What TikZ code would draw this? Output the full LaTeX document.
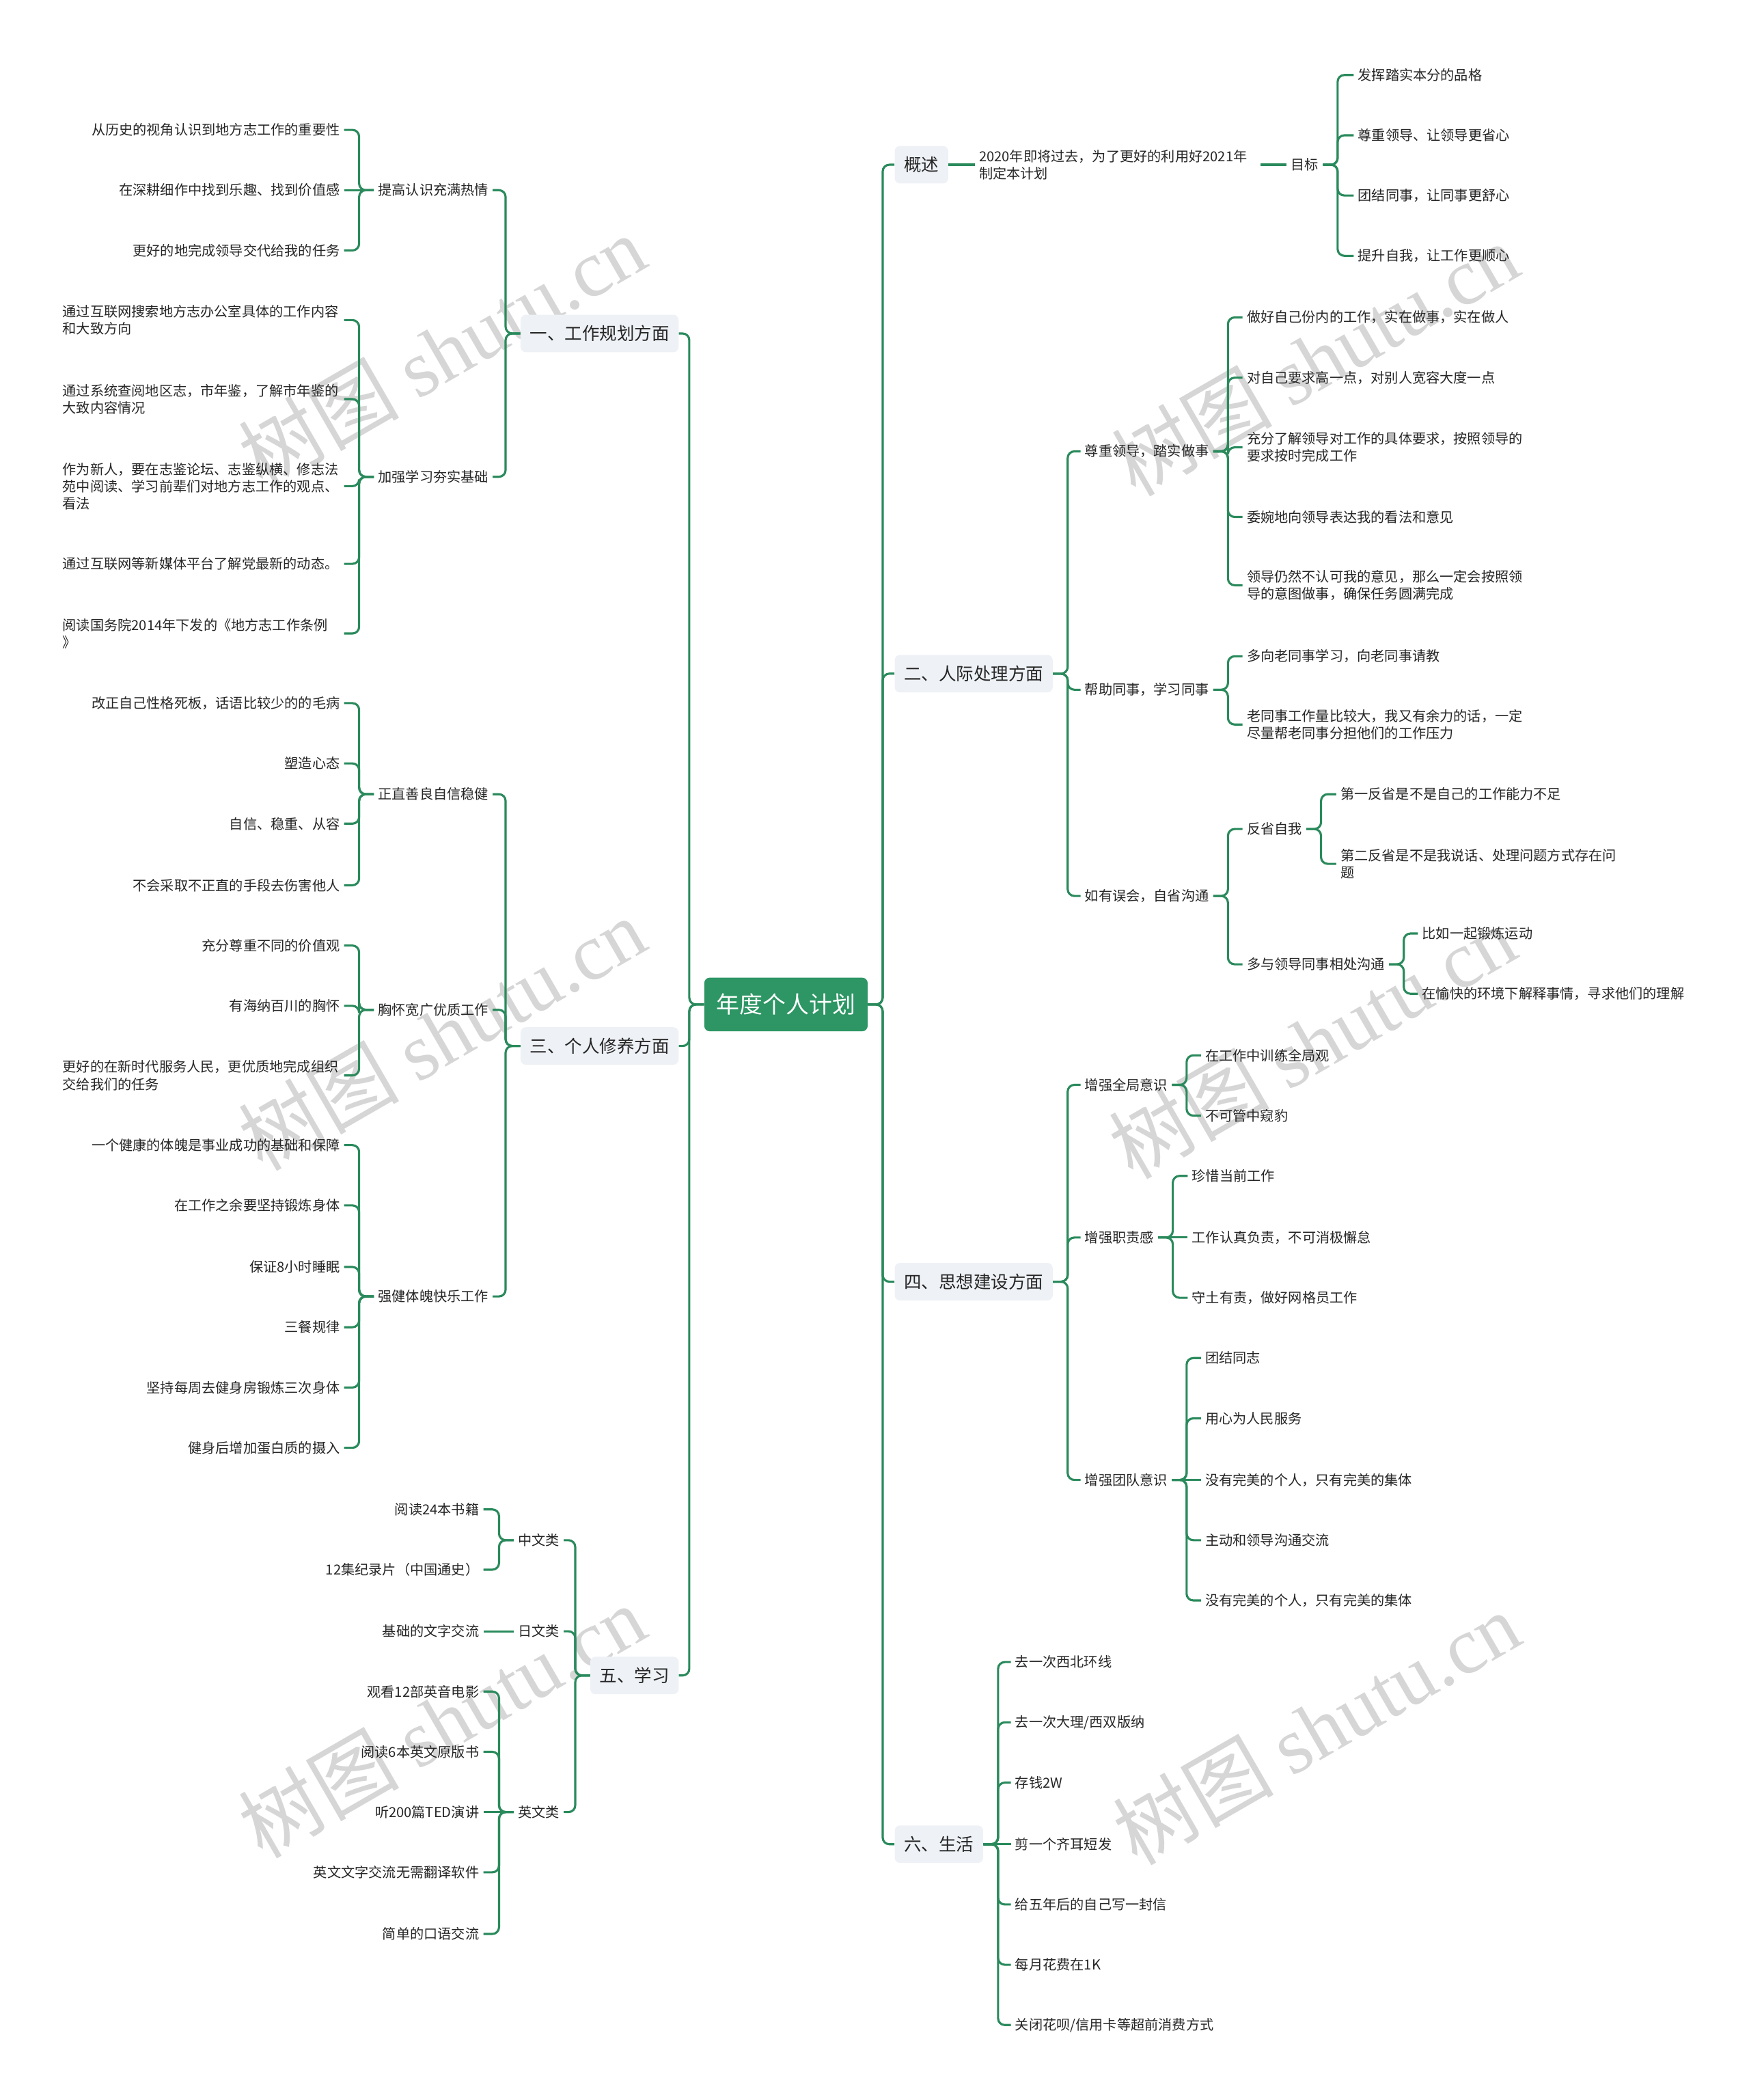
\documentclass[tikz,border=0pt]{standalone}
\usepackage{fontspec}
\setmainfont{Noto Sans CJK SC}
\newfontfamily\marklatin{Liberation Serif}
\usetikzlibrary{positioning}
\usepackage{xcolor}
\definecolor{mmgreen}{HTML}{2D9664}
\definecolor{mmline}{HTML}{2A8A5C}
\definecolor{mmbox}{HTML}{EEF1F5}
\definecolor{mmtext}{HTML}{262626}
\definecolor{mmmark}{HTML}{D6D6D6}

\tikzset{
  hubnode/.style={fill=mmgreen, text=white, rounded corners=4pt, inner sep=0pt,
    minimum width=122pt, minimum height=40pt, font=\fontsize{17.3}{20}\selectfont},
  topicbox/.style={fill=mmbox, text=mmtext, rounded corners=4pt, inner xsep=7pt,
    minimum height=28pt, font=\fontsize{13}{16}\selectfont},
  idea/.style={text=mmtext, inner xsep=3pt, inner ysep=2pt, font=\fontsize{10.3}{12.8}\selectfont},
  ideawrap/.style={idea, text width=207pt, align=left},
  branch/.style={draw=mmline, line width=1.6pt, rounded corners=5pt},
  wmark/.style={text=mmmark, rotate=30, font=\fontsize{60}{60}\selectfont}
}
% right-hand and left-hand elbow links, and straight ones
\newcommand{\linkR}[2]{\draw[branch] (#1.east) -- ++(11,0) |- (#2.west);}
\newcommand{\linkL}[2]{\draw[branch] (#1.west) -- ++(-11,0) |- (#2.east);}
\newcommand{\linkRs}[2]{\draw[branch] (#1.east) -- (#2.west);}
\newcommand{\linkLs}[2]{\draw[branch] (#1.west) -- (#2.east);}

\begin{document}
\begin{tikzpicture}[x=1pt, y=-1pt]
  \useasboundingbox (0,0) rectangle (1306,1568);
  \fill[white] (0,0) rectangle (1306,1568);

  % watermark
  \foreach \wx/\wy [count=\i] in {330/262, 982/268, 330/772, 980/778, 330/1285, 983/1290}
    \node[wmark] (mark\i) at (\wx,\wy) {树图 {\marklatin shutu.cn}};

  % centre
  \node[hubnode] (hub) at (587,750) {年度个人计划};

  % right topics
  \node[topicbox, anchor=west] (gs) at (668,123) {概述};
  \node[topicbox, anchor=west] (rj) at (668,503) {二、人际处理方面};
  \node[topicbox, anchor=west] (sx) at (668,957) {四、思想建设方面};
  \node[topicbox, anchor=west] (sh) at (668,1377) {六、生活};

  % left topics
  \node[topicbox, anchor=east] (gz) at (507,249) {一、工作规划方面};
  \node[topicbox, anchor=east] (xy) at (507,781) {三、个人修养方面};
  \node[topicbox, anchor=east] (xx) at (507,1251) {五、学习};

  % 概述
  \node[ideawrap, anchor=west] (gs1) at (728,123) {2020年即将过去，为了更好的利用好2021年\\制定本计划};
  \node[idea, anchor=west] (gs2) at (961,123) {目标};
  \node[idea, anchor=west] (gs2a) at (1011,56) {发挥踏实本分的品格};
  \node[idea, anchor=west] (gs2b) at (1011,101) {尊重领导、让领导更省心};
  \node[idea, anchor=west] (gs2c) at (1011,146) {团结同事，让同事更舒心};
  \node[idea, anchor=west] (gs2d) at (1011,191) {提升自我，让工作更顺心};

  % 二、人际处理方面
  \node[idea, anchor=west] (rj1) at (807,337) {尊重领导，踏实做事};
  \node[idea, anchor=west] (rj1a) at (928,237) {做好自己份内的工作，实在做事，实在做人};
  \node[idea, anchor=west] (rj1b) at (928,282) {对自己要求高一点，对别人宽容大度一点};
  \node[ideawrap, anchor=west] (rj1c) at (928,334) {充分了解领导对工作的具体要求，按照领导的\\要求按时完成工作};
  \node[idea, anchor=west] (rj1d) at (928,386) {委婉地向领导表达我的看法和意见};
  \node[ideawrap, anchor=west] (rj1e) at (928,437) {领导仍然不认可我的意见，那么一定会按照领\\导的意图做事，确保任务圆满完成};
  \node[idea, anchor=west] (rj2) at (807,515) {帮助同事，学习同事};
  \node[idea, anchor=west] (rj2a) at (928,490) {多向老同事学习，向老同事请教};
  \node[ideawrap, anchor=west] (rj2b) at (928,541) {老同事工作量比较大，我又有余力的话，一定\\尽量帮老同事分担他们的工作压力};
  \node[idea, anchor=west] (rj3) at (807,669) {如有误会，自省沟通};
  \node[idea, anchor=west] (rj3a) at (928,619) {反省自我};
  \node[idea, anchor=west] (rj3a1) at (998,593) {第一反省是不是自己的工作能力不足};
  \node[ideawrap, anchor=west] (rj3a2) at (998,645) {第二反省是不是我说话、处理问题方式存在问\\题};
  \node[idea, anchor=west] (rj3b) at (928,720) {多与领导同事相处沟通};
  \node[idea, anchor=west] (rj3b1) at (1059,697) {比如一起锻炼运动};
  \node[idea, anchor=west] (rj3b2) at (1059,742) {在愉快的环境下解释事情，寻求他们的理解};

  % 四、思想建设方面
  \node[idea, anchor=west] (sx1) at (807,810) {增强全局意识};
  \node[idea, anchor=west] (sx1a) at (897,788) {在工作中训练全局观};
  \node[idea, anchor=west] (sx1b) at (897,833) {不可管中窥豹};
  \node[idea, anchor=west] (sx2) at (807,924) {增强职责感};
  \node[idea, anchor=west] (sx2a) at (887,878) {珍惜当前工作};
  \node[idea, anchor=west] (sx2b) at (887,924) {工作认真负责，不可消极懈怠};
  \node[idea, anchor=west] (sx2c) at (887,969) {守土有责，做好网格员工作};
  \node[idea, anchor=west] (sx3) at (807,1105) {增强团队意识};
  \node[idea, anchor=west] (sx3a) at (897,1014) {团结同志};
  \node[idea, anchor=west] (sx3b) at (897,1059) {用心为人民服务};
  \node[idea, anchor=west] (sx3c) at (897,1105) {没有完美的个人，只有完美的集体};
  \node[idea, anchor=west] (sx3d) at (897,1150) {主动和领导沟通交流};
  \node[idea, anchor=west] (sx3e) at (897,1195) {没有完美的个人，只有完美的集体};

  % 六、生活
  \node[idea, anchor=west] (sh1) at (755,1241) {去一次西北环线};
  \node[idea, anchor=west] (sh2) at (755,1286) {去一次大理/西双版纳};
  \node[idea, anchor=west] (sh3) at (755,1331) {存钱2W};
  \node[idea, anchor=west] (sh4) at (755,1377) {剪一个齐耳短发};
  \node[idea, anchor=west] (sh5) at (755,1422) {给五年后的自己写一封信};
  \node[idea, anchor=west] (sh6) at (755,1467) {每月花费在1K};
  \node[idea, anchor=west] (sh7) at (755,1512) {关闭花呗/信用卡等超前消费方式};

  % 一、工作规划方面
  \node[idea, anchor=east] (gz1) at (368,142) {提高认识充满热情};
  \node[idea, anchor=east] (gz1a) at (257,97) {从历史的视角认识到地方志工作的重要性};
  \node[idea, anchor=east] (gz1b) at (257,142) {在深耕细作中找到乐趣、找到价值感};
  \node[idea, anchor=east] (gz1c) at (257,187) {更好的地完成领导交代给我的任务};
  \node[idea, anchor=east] (gz2) at (368,356) {加强学习夯实基础};
  \node[ideawrap, anchor=east] (gz2a) at (257,239) {通过互联网搜索地方志办公室具体的工作内容\\和大致方向};
  \node[ideawrap, anchor=east] (gz2b) at (257,298) {通过系统查阅地区志，市年鉴，了解市年鉴的\\大致内容情况};
  \node[ideawrap, anchor=east] (gz2c) at (257,363) {作为新人，要在志鉴论坛、志鉴纵横、修志法\\苑中阅读、学习前辈们对地方志工作的观点、\\看法};
  \node[ideawrap, anchor=east] (gz2d) at (257,421) {通过互联网等新媒体平台了解党最新的动态。};
  \node[ideawrap, anchor=east] (gz2e) at (257,473) {阅读国务院2014年下发的《地方志工作条例\\》};

  % 三、个人修养方面
  \node[idea, anchor=east] (xy1) at (368,593) {正直善良自信稳健};
  \node[idea, anchor=east] (xy1a) at (257,525) {改正自己性格死板，话语比较少的的毛病};
  \node[idea, anchor=east] (xy1b) at (257,570) {塑造心态};
  \node[idea, anchor=east] (xy1c) at (257,615) {自信、稳重、从容};
  \node[idea, anchor=east] (xy1d) at (257,661) {不会采取不正直的手段去伤害他人};
  \node[idea, anchor=east] (xy2) at (368,754) {胸怀宽广优质工作};
  \node[idea, anchor=east] (xy2a) at (257,706) {充分尊重不同的价值观};
  \node[idea, anchor=east] (xy2b) at (257,751) {有海纳百川的胸怀};
  \node[ideawrap, anchor=east] (xy2c) at (257,803) {更好的在新时代服务人民，更优质地完成组织\\交给我们的任务};
  \node[idea, anchor=east] (xy3) at (368,968) {强健体魄快乐工作};
  \node[idea, anchor=east] (xy3a) at (257,855) {一个健康的体魄是事业成功的基础和保障};
  \node[idea, anchor=east] (xy3b) at (257,900) {在工作之余要坚持锻炼身体};
  \node[idea, anchor=east] (xy3c) at (257,946) {保证8小时睡眠};
  \node[idea, anchor=east] (xy3d) at (257,991) {三餐规律};
  \node[idea, anchor=east] (xy3e) at (257,1036) {坚持每周去健身房锻炼三次身体};
  \node[idea, anchor=east] (xy3f) at (257,1081) {健身后增加蛋白质的摄入};

  % 五、学习
  \node[idea, anchor=east] (xx1) at (421,1150) {中文类};
  \node[idea, anchor=east] (xx1a) at (361,1127) {阅读24本书籍};
  \node[idea, anchor=east] (xx1b) at (361,1172) {12集纪录片（中国通史）};
  \node[idea, anchor=east] (xx2) at (421,1218) {日文类};
  \node[idea, anchor=east] (xx2a) at (361,1218) {基础的文字交流};
  \node[idea, anchor=east] (xx3) at (421,1353) {英文类};
  \node[idea, anchor=east] (xx3a) at (361,1263) {观看12部英音电影};
  \node[idea, anchor=east] (xx3b) at (361,1308) {阅读6本英文原版书};
  \node[idea, anchor=east] (xx3c) at (361,1353) {听200篇TED演讲};
  \node[idea, anchor=east] (xx3d) at (361,1398) {英文文字交流无需翻译软件};
  \node[idea, anchor=east] (xx3e) at (361,1444) {简单的口语交流};

  % links, right side
  \foreach \p/\c in {hub/gs, hub/rj, hub/sx, hub/sh,
      gs2/gs2a, gs2/gs2b, gs2/gs2c, gs2/gs2d,
      rj/rj1, rj/rj2, rj/rj3, rj1/rj1a, rj1/rj1b, rj1/rj1c, rj1/rj1d, rj1/rj1e,
      rj2/rj2a, rj2/rj2b, rj3/rj3a, rj3/rj3b, rj3a/rj3a1, rj3a/rj3a2, rj3b/rj3b1, rj3b/rj3b2,
      sx/sx1, sx/sx2, sx/sx3, sx1/sx1a, sx1/sx1b, sx2/sx2a, sx2/sx2c,
      sx3/sx3a, sx3/sx3b, sx3/sx3d, sx3/sx3e,
      sh/sh1, sh/sh2, sh/sh3, sh/sh5, sh/sh6, sh/sh7}
    {\linkR{\p}{\c}}
  \foreach \p/\c in {gs/gs1, gs1/gs2, sx2/sx2b, sx3/sx3c, sh/sh4}
    {\linkRs{\p}{\c}}

  % links, left side
  \foreach \p/\c in {hub/gz, hub/xy, hub/xx, gz/gz1, gz/gz2,
      gz1/gz1a, gz1/gz1c, gz2/gz2a, gz2/gz2b, gz2/gz2c, gz2/gz2d, gz2/gz2e,
      xy/xy1, xy/xy2, xy/xy3, xy1/xy1a, xy1/xy1b, xy1/xy1c, xy1/xy1d,
      xy2/xy2a, xy2/xy2b, xy2/xy2c, xy3/xy3a, xy3/xy3b, xy3/xy3c, xy3/xy3d, xy3/xy3e, xy3/xy3f,
      xx/xx1, xx/xx2, xx/xx3, xx1/xx1a, xx1/xx1b,
      xx3/xx3a, xx3/xx3b, xx3/xx3d, xx3/xx3e}
    {\linkL{\p}{\c}}
  \foreach \p/\c in {gz1/gz1b, xx2/xx2a, xx3/xx3c}
    {\linkLs{\p}{\c}}
\end{tikzpicture}
\end{document}
